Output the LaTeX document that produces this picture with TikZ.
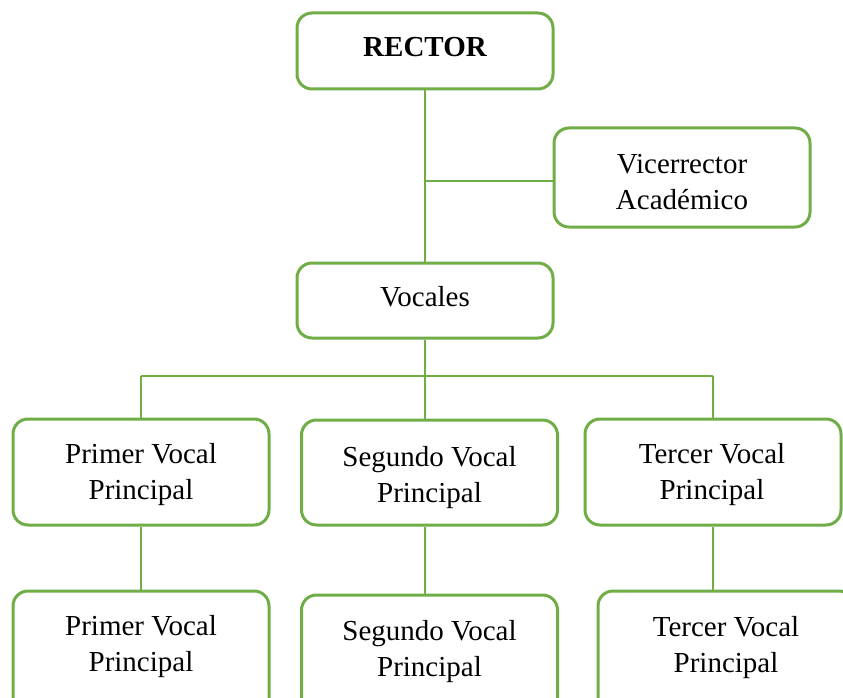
\documentclass[tikz,border=0pt]{standalone}
\usepackage{fontspec}
\setmainfont{Liberation Serif}
\definecolor{boxgreen}{HTML}{70AD47}
\begin{document}
\begin{tikzpicture}[x=1pt,y=-1pt,
  box/.style={draw=boxgreen,line width=3pt,rounded corners=15pt,fill=white,
    minimum width=256pt,inner sep=0pt},
  lbl/.style={font=\fontsize{29}{36}\selectfont,align=center,inner sep=0pt},
  conn/.style={draw=boxgreen,line width=2.4pt}]
\useasboundingbox (0,0) rectangle (843,698);
\clip (0,0) rectangle (843,698);
% boxes
\node[box,minimum height=76pt]  (r)  at (425,51) {};
\node[box,minimum height=99pt]  (vi) at (682,177.5) {};
\node[box,minimum height=75pt]  (vo) at (425,300.5) {};
\node[box,minimum height=106pt] (p1) at (141,472) {};
\node[box,minimum height=105pt] (s1) at (429.5,472.5) {};
\node[box,minimum height=106pt] (t1) at (713,472) {};
\node[box,minimum height=130pt] (p2) at (141,656) {};
\node[box,minimum height=130pt] (s2) at (429.5,660) {};
\node[box,minimum height=130pt] (t2) at (726,656) {};
% texts
\node[lbl,font=\fontsize{29}{36}\selectfont\bfseries] (rt) at (425,47) {RECTOR};
\node[lbl] (vit) at (682,182) {Vicerrector\\Académico};
\node[lbl] (vot) at (425,297) {Vocales};
\node[lbl] (p1t) at (141,474.5) {Primer Vocal\\Principal};
\node[lbl] (s1t) at (429.5,477.5) {Segundo Vocal\\Principal};
\node[lbl] (t1t) at (712,474.5) {Tercer Vocal\\Principal};
\node[lbl] (p2t) at (141,646.5) {Primer Vocal\\Principal};
\node[lbl] (s2t) at (429.5,651.5) {Segundo Vocal\\Principal};
\node[lbl] (t2t) at (726,647.5) {Tercer Vocal\\Principal};
% connectors
\coordinate (bus) at (425,376);
\coordinate (vj) at (425,181);
\draw[conn] (r.south) -- (vo.north);
\draw[conn] (vj) -- (vj -| vi.west);
\draw[conn] (vo.south) -- (s1.north -| vo.south);
\draw[conn] (p1.north |- bus) -- (t1.north |- bus);
\draw[conn] (p1.north |- bus) -- (p1.north);
\draw[conn] (t1.north |- bus) -- (t1.north);
\draw[conn] (p1.south) -- (p2.north);
\draw[conn] (s1.south -| vo.south) -- (s2.north -| vo.south);
\draw[conn] (t1.south) -- (t2.north -| t1.south);
\end{tikzpicture}
\end{document}
